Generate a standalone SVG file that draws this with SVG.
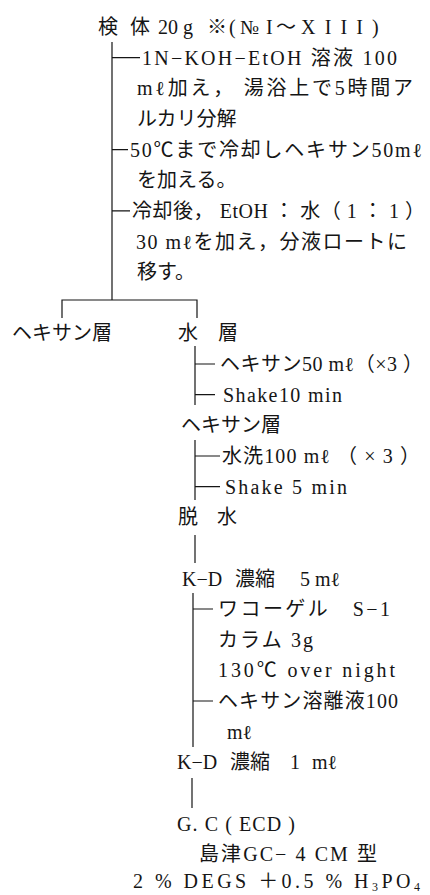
<svg xmlns="http://www.w3.org/2000/svg" width="430" height="895" viewBox="0 0 430 895">
<style>
.t{font-family:"Liberation Serif","Noto Sans CJK JP",serif;font-size:20px;fill:#151515}
.ln{stroke:#151515;stroke-width:1.2;fill:none}
.sub{font-size:12px}
</style>
<rect width="430" height="895" fill="#fff"/>
<g id="connectors" class="ln">
<path d="M112,42V300M112,57.6H140M112,149.6H128M112,210.8H130"/>
<path d="M62,318V300H197V318"/>
<path d="M195,346V405M195,364H215M195,394.7H215"/>
<path d="M195,440V500M195,456H220M195,486.6H220"/>
<path d="M195,535V563"/>
<path d="M193,593V747M193,609H213M193,701H213"/>
<path d="M192,778V808"/>
</g>
<g id="sample"><text class="t" y="34"><tspan x="98">検</tspan><tspan x="130">体</tspan><tspan x="158">20 g</tspan><tspan x="207">※</tspan><tspan x="229">(</tspan><tspan x="240">№</tspan><tspan x="266">I</tspan><tspan x="276">〜</tspan><tspan x="301" textLength="62" lengthAdjust="spacing">XIII</tspan><tspan x="372">)</tspan></text></g>
<g id="step1">
<text class="t" x="142" y="65" textLength="255" lengthAdjust="spacing">1N−KOH−EtOH 溶液 100</text>
<text class="t" x="137" y="95" textLength="276" lengthAdjust="spacing">mℓ加え， 湯浴上で5時間ア</text>
<text class="t" x="137" y="126">ルカリ分解</text>
</g>
<g id="step2">
<text class="t" x="130" y="157" textLength="292" lengthAdjust="spacing">50℃まで冷却しヘキサン50mℓ</text>
<text class="t" x="137" y="187">を加える。</text>
</g>
<g id="step3">
<text class="t" x="132" y="218" textLength="293" lengthAdjust="spacing">冷却後， EtOH ： 水（ 1 ： 1 ）</text>
<text class="t" x="136" y="248.5" textLength="271" lengthAdjust="spacing">30 mℓを加え，分液ロートに</text>
<text class="t" x="137" y="279">移す。</text>
</g>
<g id="hexane-layer1"><text class="t" x="12" y="340">ヘキサン層</text></g>
<g id="water-layer"><text class="t" y="340"><tspan x="178">水</tspan><tspan x="218">層</tspan></text></g>
<g id="step4">
<text class="t" x="220" y="371" textLength="203" lengthAdjust="spacing">ヘキサン50 mℓ（×3 ）</text>
<text class="t" x="223" y="401.7" textLength="119" lengthAdjust="spacing">Shake10 min</text>
</g>
<g id="hexane-layer2"><text class="t" x="181" y="432">ヘキサン層</text></g>
<g id="step5">
<text class="t" x="222" y="463" textLength="198" lengthAdjust="spacing">水洗100 mℓ （ × 3 ）</text>
<text class="t" x="225" y="493.6" textLength="122" lengthAdjust="spacing">Shake 5 min</text>
</g>
<g id="dehydrate"><text class="t" y="524"><tspan x="178">脱</tspan><tspan x="217">水</tspan></text></g>
<g id="kd5"><text class="t" y="585.5"><tspan x="182">K−D</tspan><tspan x="235">濃縮</tspan><tspan x="300">5 mℓ</tspan></text></g>
<g id="step6">
<text class="t" x="218" y="616" textLength="172" lengthAdjust="spacing">ワコーゲル　S−1</text>
<text class="t" x="218" y="647" textLength="95" lengthAdjust="spacing">カラム 3g</text>
<text class="t" x="218" y="677" textLength="177" lengthAdjust="spacing">130℃ over  night</text>
<text class="t" x="218" y="708" textLength="180" lengthAdjust="spacing">ヘキサン溶離液100</text>
<text class="t" x="227" y="739">mℓ</text>
</g>
<g id="kd1"><text class="t" y="769"><tspan x="177">K−D</tspan><tspan x="230">濃縮</tspan><tspan x="290">1</tspan><tspan x="312">mℓ</tspan></text></g>
<g id="gc">
<text class="t" x="177" y="831" textLength="118" lengthAdjust="spacing">G. C ( ECD )</text>
<text class="t" x="199" y="861" textLength="178" lengthAdjust="spacing">島津GC− 4 CM 型</text>
<text class="t" x="133" y="888" textLength="287" lengthAdjust="spacing">2 % DEGS ＋0.5 % H<tspan class="sub" dy="3">3</tspan><tspan dy="-3">PO</tspan><tspan class="sub" dy="3">4</tspan></text>
</g>
</svg>
